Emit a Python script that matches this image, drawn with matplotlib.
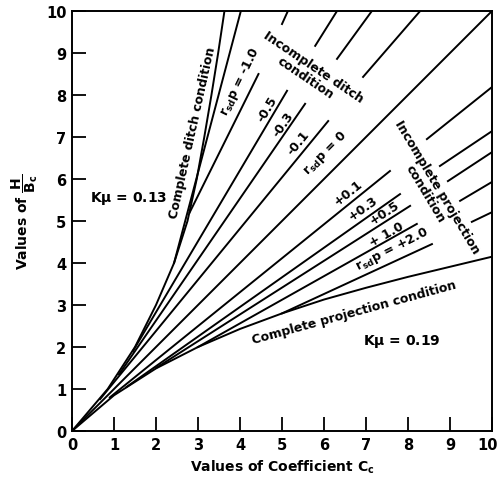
import matplotlib
matplotlib.use("Agg")
import matplotlib.pyplot as plt
import matplotlib.transforms as mtransforms

# ---- data (Cc, H/Bc) ----
ditch_curve_cc = [0, 0.85, 1.5, 2.0, 2.43, 2.75, 2.97, 3.15, 3.32, 3.48, 3.63]
ditch_curve_h = [0, 1, 2, 3, 4, 5, 6, 7, 8, 9, 10]

proj_curve_cc = [0, 1, 2, 3, 4, 5, 6, 7, 8, 9, 10]
proj_curve_h = [0, 0.85, 1.49, 2.0, 2.43, 2.8, 3.13, 3.41, 3.67, 3.91, 4.15]

# straight branch lines: (start, label end) and continuation beyond region label
line_names = ["extra", "-1.0", "-0.5", "-0.3", "-0.1", "0",
              "+0.1", "+0.3", "+0.5", "+1.0", "+2.0"]
line_start_cc = [2.43, 2.8, 1.45, 1.12, 0.67, 0.0, 0.9, 1.3, 2.0, 3.0, 5.0]
line_start_h = [4.0, 5.2, 1.9, 1.35, 0.76, 0.0, 0.8, 1.05, 1.5, 2.0, 2.8]
line_end_cc = [4.02, 4.44, 5.12, 5.55, 6.10, 10.0, 7.57, 7.81, 8.05, 8.21, 8.57]
line_end_h = [10.0, 8.5, 8.1, 7.79, 7.38, 10.0, 6.19, 5.64, 5.36, 4.93, 4.45]

hatch_start_cc = [5.0, 5.79, 6.31, 6.93, 8.45, 8.76, 8.95, 9.24, 9.52]
hatch_start_h = [9.69, 9.17, 8.86, 8.43, 6.95, 6.31, 5.95, 5.48, 4.98]
hatch_end_cc = [5.14, 6.31, 7.14, 8.29, 10, 10, 10, 10, 10]
hatch_end_h = [10, 10, 10, 10, 8.19, 7.14, 6.64, 5.93, 5.21]

ticks = list(range(0, 11))

fig = plt.figure(figsize=(4.99, 4.85), dpi=100)
ax = fig.add_axes([72 / 499, 53 / 485, 420 / 499, 420 / 485])

lw = 1.4
ax.plot(ditch_curve_cc, ditch_curve_h, color="black", lw=lw)
ax.plot(proj_curve_cc, proj_curve_h, color="black", lw=lw)
for x0, y0, x1, y1 in zip(line_start_cc, line_start_h, line_end_cc, line_end_h):
    ax.plot([x0, x1], [y0, y1], color="black", lw=lw)
for x0, y0, x1, y1 in zip(hatch_start_cc, hatch_start_h, hatch_end_cc, hatch_end_h):
    ax.plot([x0, x1], [y0, y1], color="black", lw=lw)

ax.set_xlim(0, 10)
ax.set_ylim(0, 10)
ax.set_xticks(ticks)
ax.set_yticks(ticks)
ax.set_xticklabels([str(t) for t in ticks], fontweight="bold", fontsize=10.5)
ax.set_yticklabels([str(t) for t in ticks], fontweight="bold", fontsize=10.5)
ax.tick_params(direction="in", length=10, width=1.3, pad=4)
for s in ax.spines.values():
    s.set_linewidth(1.4)

# nudge the last x tick label so it stays inside the figure
last = ax.get_xticklabels()[-1]
last.set_transform(last.get_transform() +
                   mtransforms.ScaledTranslation(-4 / 100, 0, fig.dpi_scale_trans))

ax.set_xlabel(r"Values of Coefficient C$_\mathbf{c}$", fontweight="bold",
              fontsize=10, labelpad=4)
ax.set_ylabel(r"Values of $\mathbf{\dfrac{H}{B_c}}$", fontweight="bold",
              fontsize=10, labelpad=4)

tk = dict(fontweight="bold", fontsize=9, color="black",
          rotation_mode="anchor", ha="center", va="center")
rsdp = r"$\mathbf{r_{sd}p}$"

ax.text(0.43, 5.57, r"K$\mathbf{\mu}$ = 0.13", fontweight="bold", fontsize=10,
        ha="left", va="center")
ax.text(6.93, 2.15, r"K$\mathbf{\mu}$ = 0.19", fontweight="bold", fontsize=10,
        ha="left", va="center")

ax.text(2.88, 7.12, "Complete ditch condition", rotation=77.5, **tk)
ax.text(6.71, 2.83, "Complete projection condition", rotation=15.3, **tk)
ax.text(5.65, 8.55, "Incomplete ditch\ncondition", rotation=-34,
        multialignment="center", linespacing=1.0, **tk)
ax.text(8.55, 5.74, "Incomplete projection\ncondition", rotation=-59,
        multialignment="center", linespacing=1.0, **tk)

ax.text(4.0, 8.33, rsdp + " = -1.0", rotation=64, **tk)
ax.text(4.64, 7.67, "-0.5", rotation=59.4, **tk)
ax.text(5.02, 7.31, "-0.3", rotation=55.5, **tk)
ax.text(5.38, 6.88, "-0.1", rotation=50.6, **tk)
ax.text(6.02, 6.64, rsdp + " = 0", rotation=45, **tk)
ax.text(6.57, 5.69, "+0.1", rotation=38.9, **tk)
ax.text(6.93, 5.31, "+0.3", rotation=35.2, **tk)
ax.text(7.43, 5.21, "+0.5", rotation=33, **tk)
ax.text(7.5, 4.69, "+ 1.0", rotation=29.3, **tk)
ax.text(7.62, 4.33, rsdp + " = +2.0", rotation=27, **tk)

fig.savefig("out.png", dpi=100)
